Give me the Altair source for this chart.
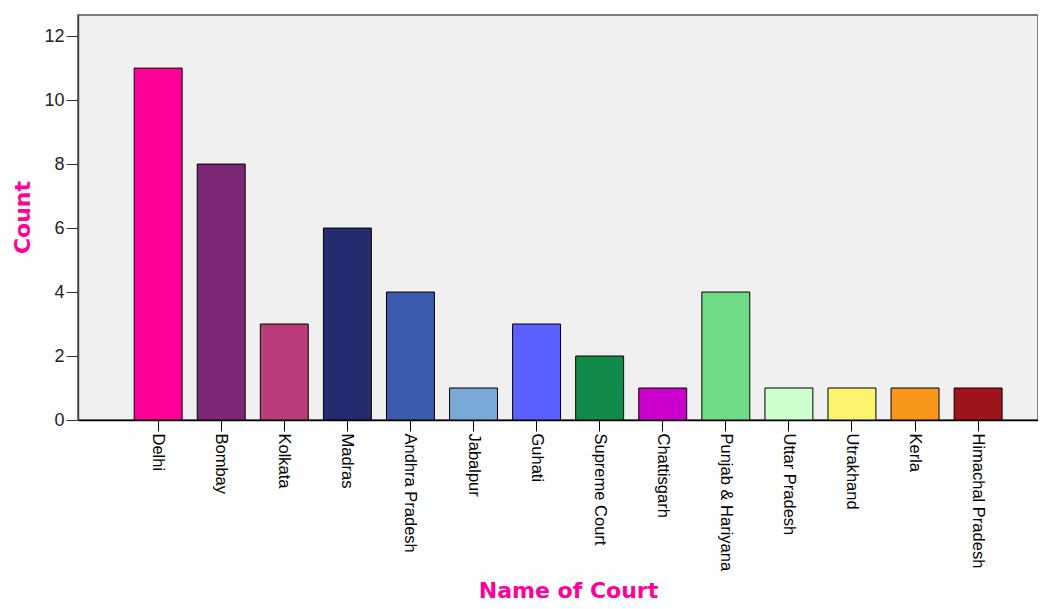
import altair as alt
import pandas as pd

courts = ["Delhi", "Bombay", "Kolkata", "Madras", "Andhra Pradesh", "Jabalpur", "Guhati",
          "Supreme Court", "Chattisgarh", "Punjab & Hariyana", "Uttar Pradesh", "Utrakhand",
          "Kerla", "Himachal Pradesh"]
counts = [11, 8, 3, 6, 4, 1, 3, 2, 1, 4, 1, 1, 1, 1]
colors = ["#FF0099", "#7B2677", "#B93D7A", "#262A6E", "#3B5BAD", "#7BA9D7", "#5A5FFF",
          "#128A49", "#CC00CC", "#6FDC85", "#CCFFCC", "#FBF56E", "#F7981D", "#A0141B"]

df = pd.DataFrame({"court": courts, "count": counts})

chart = alt.Chart(df).mark_bar(stroke="black", strokeWidth=1).encode(
    x=alt.X("court:N", sort=courts,
            scale=alt.Scale(paddingInner=0.24, paddingOuter=0.73, align=0.61),
            axis=alt.Axis(title="Name of Court", labelAngle=90, labelAlign="left",
                          labelBaseline="middle", labelFontSize=16.5, labelFont="Liberation Sans",
                          labelColor="black", tickSize=11, tickColor="black", labelPadding=2,
                          domainColor="black", domainWidth=1.5,
                          titleFont="DejaVu Sans", titleFontSize=22, titleFontWeight="bold",
                          titleColor="#FF0099", titleX=490, titleY=177,
                          titleBaseline="alphabetic", titleAlign="center")),
    y=alt.Y("count:Q", scale=alt.Scale(domain=[0, 12.66], nice=False),
            axis=alt.Axis(title="Count", values=[0, 2, 4, 6, 8, 10, 12], grid=False,
                          labelFontSize=18, labelFont="Liberation Sans", labelColor="#222",
                          tickSize=12, tickColor="#333", labelPadding=2,
                          domainColor="#444", domainWidth=1.5,
                          titleFont="DejaVu Sans", titleFontSize=22, titleFontWeight="bold",
                          titleColor="#FF0099", titleX=-56, titleY=202,
                          titleBaseline="middle", titleAlign="center", titleAngle=-90)),
    color=alt.Color("court:N", sort=courts, scale=alt.Scale(domain=courts, range=colors),
                    legend=None),
).properties(
    width=960, height=405,
    autosize=alt.AutoSizeParams(type="none"),
    padding={"left": 70, "top": 7, "right": 0, "bottom": 181},
    background="white",
).configure_view(
    fill="#F0F0F0", stroke="#555555", strokeWidth=1.5
)

chart.save("out.html", embed_options={"renderer": "svg", "actions": False})
